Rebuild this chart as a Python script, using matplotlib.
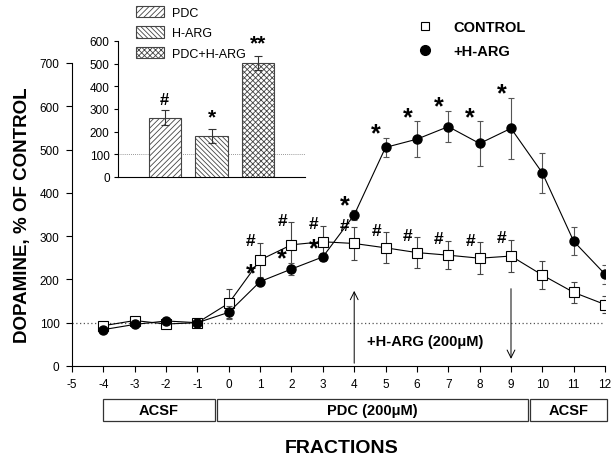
import matplotlib
matplotlib.use("Agg")
import matplotlib.pyplot as plt
import matplotlib.transforms as mtransforms
from matplotlib.patches import Rectangle, Patch
from matplotlib.lines import Line2D
import numpy as np

plt.rcParams['font.family'] = ['Liberation Sans', 'DejaVu Sans']
plt.rcParams['axes.unicode_minus'] = False
plt.rcParams['hatch.linewidth'] = 0.6

fractions = [-4, -3, -2, -1, 0, 1, 2, 3, 4, 5, 6, 7, 8, 9, 10, 11, 12]
control = [93, 105, 97, 100, 145, 245, 280, 287, 283, 273, 262, 256, 249, 254, 210, 170, 142]
control_err = [0, 0, 0, 0, 33, 40, 52, 37, 37, 36, 35, 33, 37, 38, 33, 25, 20]
harg = [84, 96, 104, 100, 124, 195, 224, 252, 349, 505, 524, 553, 514, 549, 446, 288, 212]
harg_err = [0, 0, 0, 0, 15, 8, 14, 10, 12, 22, 41, 36, 51, 71, 46, 32, 22]
control_sig = [1, 2, 3, 4, 5, 6, 7, 8, 9]
harg_sig = [1, 2, 3, 4, 5, 6, 7, 8, 9]

inset_labels = ['PDC', 'H-ARG', 'PDC+H-ARG']
inset_vals = [262, 180, 503]
inset_err = [34, 31, 33]
inset_marks = ['#', '*', '**']
inset_hatch = ['//////', '\\\\\\\\\\\\\\', 'xxxxxx']

periods = [(-4.0, -0.45, 'ACSF'), (-0.38, 9.55, 'PDC (200\u03bcM)'), (9.62, 12.05, 'ACSF')]

fig = plt.figure(figsize=(6.11, 4.60), dpi=100)
ax = fig.add_axes([0.1178, 0.2022, 0.8725, 0.6587])

ax.axhline(100, color='#555555', ls=(0, (1, 2)), lw=0.9, zorder=1)
ax.errorbar(fractions, control, yerr=control_err, color='black', ecolor='#444444',
            elinewidth=0.8, capsize=2.5, capthick=0.8, lw=0.8, marker='s', ms=6.5,
            mfc='white', mec='black', mew=0.8, zorder=3)
ax.errorbar(fractions, harg, yerr=harg_err, color='black', ecolor='#555555',
            elinewidth=0.8, capsize=2.5, capthick=0.8, lw=0.8, marker='o', ms=6.5,
            mfc='black', mec='black', zorder=4)

idx = {f: i for i, f in enumerate(fractions)}
for f in control_sig:
    i = idx[f]
    ax.text(f - 0.3, control[i] + control_err[i] + 5, '#', ha='center', va='center',
            fontsize=12.5, fontweight='bold')
for f in harg_sig:
    i = idx[f]
    ax.text(f - 0.3, harg[i] + harg_err[i] + 10, '*', ha='center', va='center',
            fontsize=18, fontweight='bold')

ax.annotate('', xy=(4, 180), xytext=(4, 0),
            arrowprops=dict(arrowstyle='->', lw=0.7, color='black', mutation_scale=14))
ax.annotate('', xy=(9, 10), xytext=(9, 185),
            arrowprops=dict(arrowstyle='->', lw=0.7, color='black', mutation_scale=14))
ax.text(4.4, 57, '+H-ARG (200\u03bcM)', fontsize=10.5, fontweight='bold', va='center', ha='left')

ax.set_xlim(-5, 12)
ax.set_ylim(0, 700)
ax.set_xticks(range(-5, 13))
ax.set_yticks(range(0, 701, 100))
ax.tick_params(labelsize=8.5, direction='out', length=4, width=0.8, pad=5)
for s in ['top', 'right']:
    ax.spines[s].set_visible(False)
for s in ['left', 'bottom']:
    ax.spines[s].set_linewidth(0.8)
ax.set_ylabel('DOPAMINE, % OF CONTROL', fontsize=13.5, fontweight='bold', labelpad=6)

trans = mtransforms.blended_transform_factory(ax.transData, ax.transAxes)
for x0, x1, lab in periods:
    r = Rectangle((x0, -0.1815), x1 - x0, 0.0725, transform=trans, fill=False,
                  ec='#333333', lw=0.9, clip_on=False)
    ax.add_patch(r)
    ax.text((x0 + x1) / 2, -0.145, lab, transform=trans, ha='center', va='center',
            fontsize=10.5, fontweight='bold')
fig.text(0.5 * (0.1178 + 0.99) + 0.005, 1 - 449 / 460, 'FRACTIONS', ha='center', va='center',
         fontsize=14, fontweight='bold')

main_handles = [
    Line2D([], [], ls='none', marker='s', ms=6, mfc='white', mec='black', mew=0.8),
    Line2D([], [], ls='none', marker='o', ms=7, mfc='black', mec='black'),
]
ax.legend(main_handles, ['CONTROL', '+H-ARG'], loc='center left',
          bbox_to_anchor=(418 / 611, 1 - 40 / 460), bbox_transform=fig.transFigure,
          frameon=False, prop={'weight': 'bold', 'size': 10.5}, handlelength=1.0,
          handletextpad=1.4, labelspacing=0.7, borderaxespad=0, borderpad=0)

# inset
axi = fig.add_axes([118 / 611, 1 - 178 / 460, (305 - 118) / 611, (178 - 42) / 460])
xpos = [1, 2, 3]
bars = axi.bar(xpos, inset_vals, width=0.69, yerr=inset_err, color='white', ec='#333333',
               lw=0.8, error_kw=dict(elinewidth=0.8, capsize=3, capthick=0.8, ecolor='#333333'),
               zorder=3)
for b, h in zip(bars, inset_hatch):
    b.set_hatch(h)
    b.set_edgecolor('#444444')
for x, v, e, m in zip(xpos, inset_vals, inset_err, inset_marks):
    axi.text(x, v + e + 12, m, ha='center', va='bottom', fontsize=12 if m == '#' else 15,
             fontweight='bold')
axi.axhline(100, color='#777777', ls=(0, (1, 1.5)), lw=0.6, zorder=1)
axi.set_xlim(0, 4)
axi.set_ylim(0, 600)
axi.set_xticks([])
axi.set_yticks(range(0, 601, 100))
axi.tick_params(labelsize=8.5, direction='out', length=3, width=0.8, pad=3)
axi.patch.set_alpha(0)
for s in ['top', 'right']:
    axi.spines[s].set_visible(False)
for s in ['left', 'bottom']:
    axi.spines[s].set_linewidth(0.8)

handles = [Patch(facecolor='white', edgecolor='#444444', hatch=h, lw=0.8) for h in inset_hatch]
axi.legend(handles, inset_labels, loc='upper left', bbox_to_anchor=(136 / 611, 1 - 7 / 460),
           bbox_transform=fig.transFigure, frameon=False, fontsize=9, handlelength=2.2,
           handleheight=1.0, handletextpad=0.7, labelspacing=0.6, borderaxespad=0,
           borderpad=0)

fig.savefig('out.png', dpi=100)
